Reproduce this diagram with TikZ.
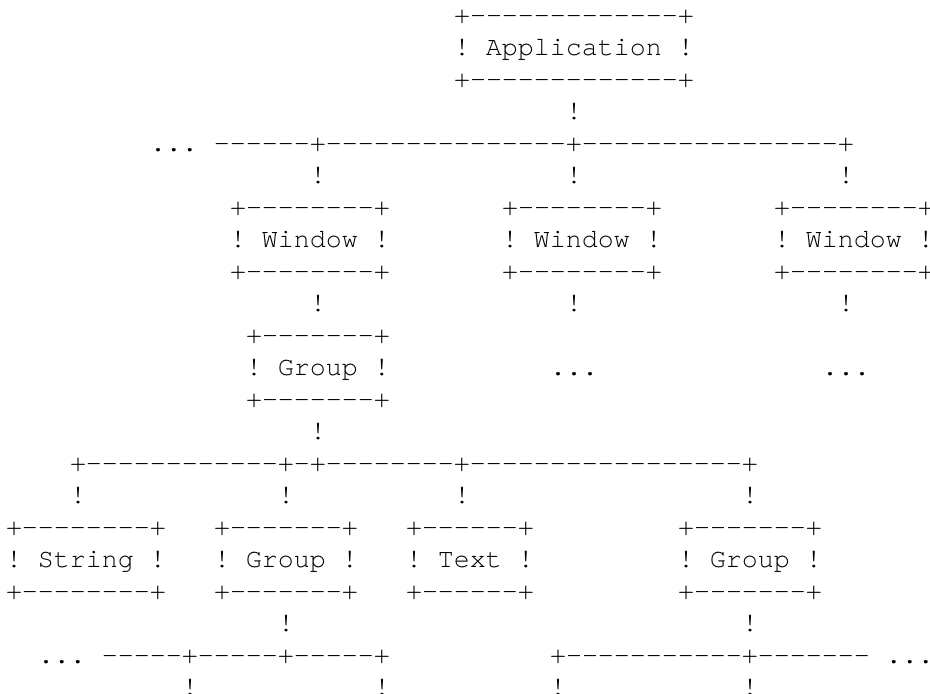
\documentclass[tikz,border=0pt]{standalone}
\usepackage{fontspec}
\setmonofont{TeX Gyre Cursor}

\begin{document}
\begin{tikzpicture}[x=8pt, y=-16pt,
  txt/.style={anchor=base west, inner sep=0pt, outer sep=0pt,
    font=\ttfamily\fontsize{13.33pt}{16pt}\selectfont}]
\useasboundingbox (-0.375,-0.71875) rectangle (57.75,20.9375);
% application
\node[txt] (appTop) at (28,0) {+-------------+};
\node[txt] (app)    at (28,1) {! Application !};
\node[txt] (appBot) at (28,2) {+-------------+};
\node[txt] (appLink) at (35,3) {!};
%
\node[txt] (winBar) at (9,4) {... ------+---------------+----------------+};
\node[txt] (winLinkA) at (19,5) {!};
\node[txt] (winLinkB) at (35,5) {!};
\node[txt] (winLinkC) at (52,5) {!};
% windows
\node[txt] (winATop) at (14,6) {+--------+};
\node[txt] (winBTop) at (31,6) {+--------+};
\node[txt] (winCTop) at (48,6) {+--------+};
\node[txt] (winA) at (14,7) {! Window !};
\node[txt] (winB) at (31,7) {! Window !};
\node[txt] (winC) at (48,7) {! Window !};
\node[txt] (winABot) at (14,8) {+--------+};
\node[txt] (winBBot) at (31,8) {+--------+};
\node[txt] (winCBot) at (48,8) {+--------+};
\node[txt] (winALink) at (19,9) {!};
\node[txt] (winBLink) at (35,9) {!};
\node[txt] (winCLink) at (52,9) {!};
% first group
\node[txt] (grpTop) at (15,10) {+-------+};
\node[txt] (grp)    at (15,11) {! Group !};
\node[txt] (winBMore) at (34,11) {...};
\node[txt] (winCMore) at (51,11) {...};
\node[txt] (grpBot) at (15,12) {+-------+};
\node[txt] (grpLink) at (19,13) {!};
%
\node[txt] (grpBar) at (4,14) {+------------+-+--------+-----------------+};
\node[txt] (strLink)  at (4,15)  {!};
\node[txt] (subLink)  at (17,15) {!};
\node[txt] (textLink) at (28,15) {!};
\node[txt] (grpRLink) at (46,15) {!};
% children
\node[txt] (strTop)  at (0,16)  {+--------+};
\node[txt] (subTop)  at (13,16) {+-------+};
\node[txt] (textTop) at (25,16) {+------+};
\node[txt] (grpRTop) at (42,16) {+-------+};
\node[txt] (str)  at (0,17)  {! String !};
\node[txt] (sub)  at (13,17) {! Group !};
\node[txt] (text) at (25,17) {! Text !};
\node[txt] (grpR) at (42,17) {! Group !};
\node[txt] (strBot)  at (0,18)  {+--------+};
\node[txt] (subBot)  at (13,18) {+-------+};
\node[txt] (textBot) at (25,18) {+------+};
\node[txt] (grpRBot) at (42,18) {+-------+};
\node[txt] (subDown)  at (17,19) {!};
\node[txt] (grpRDown) at (46,19) {!};
%
\node[txt] (subBar)  at (2,20)  {... -----+-----+-----+};
\node[txt] (grpRBar) at (34,20) {+-----------+------- ...};
\node[txt] (subLeafA)  at (11,21) {!};
\node[txt] (subLeafB)  at (23,21) {!};
\node[txt] (grpRLeafA) at (34,21) {!};
\node[txt] (grpRLeafB) at (46,21) {!};
\end{tikzpicture}
\end{document}
